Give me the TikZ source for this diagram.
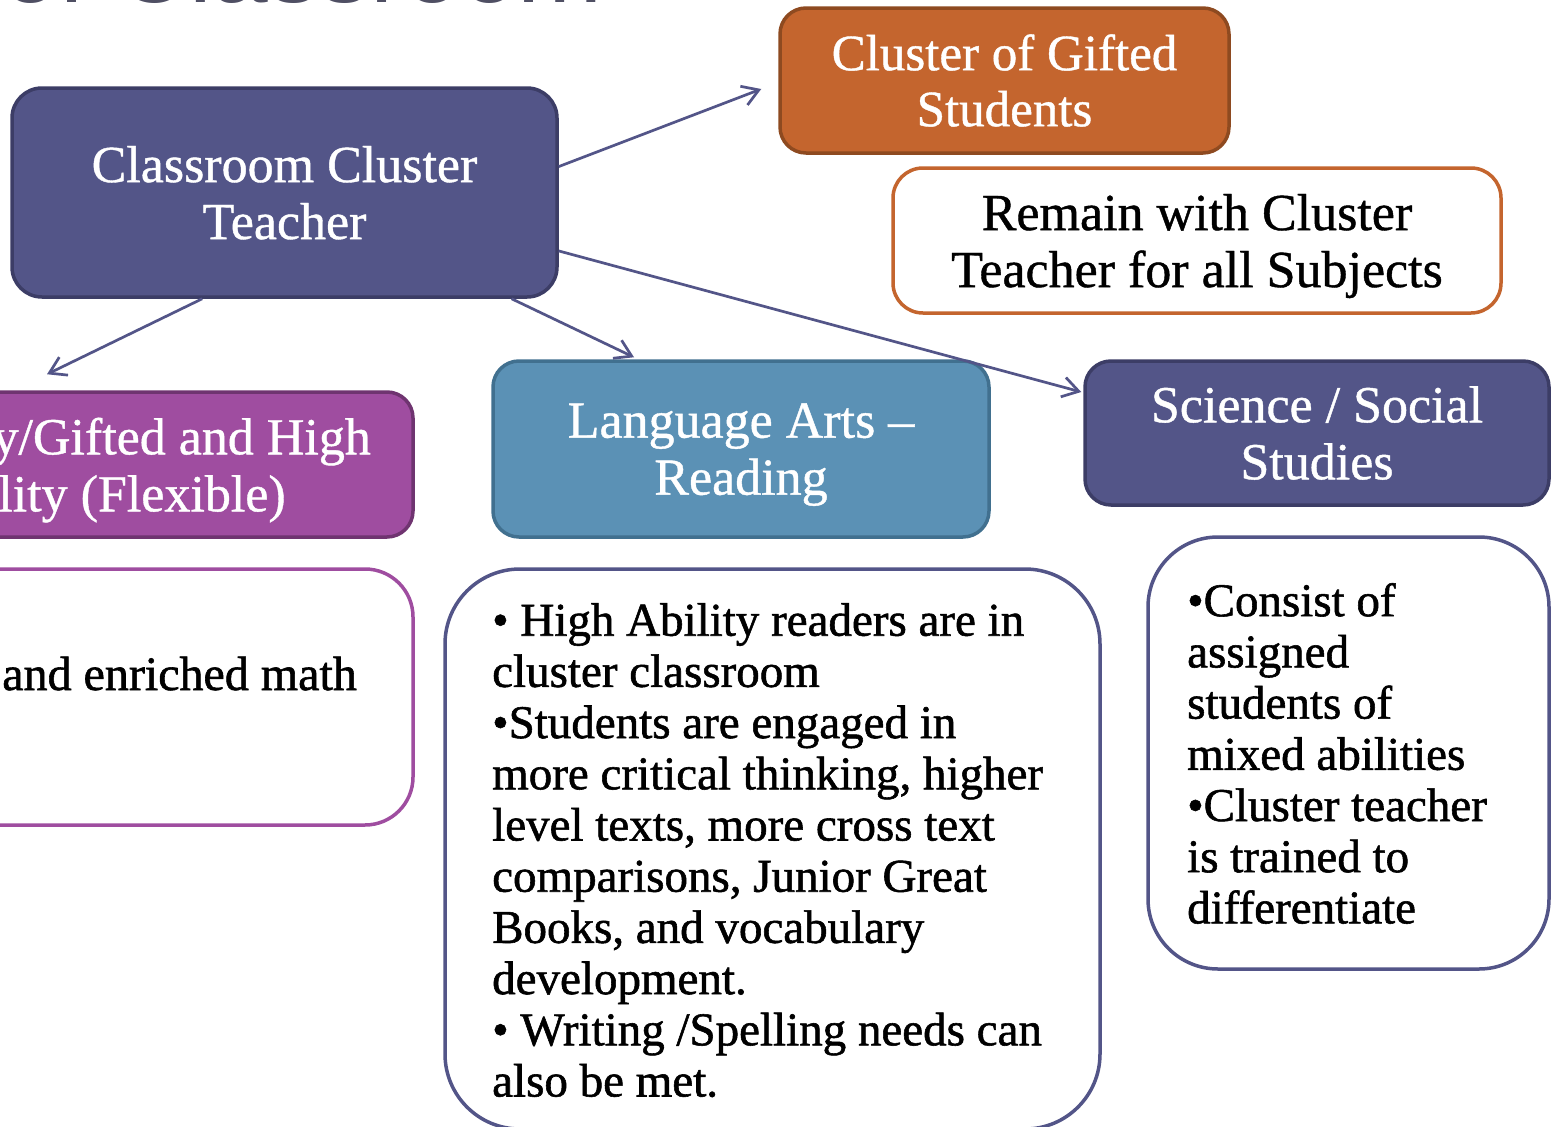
\documentclass[tikz,border=0pt]{standalone}
\usepackage{fontspec}
\setmainfont[FakeBold=0.8]{Liberation Serif}
\newfontfamily\bodyserif[WordSpace=0.84,FakeBold=1.2]{Liberation Serif}
\newfontfamily\mathserif[FakeBold=1.2]{Liberation Serif}
\newfontfamily\titlesans{Liberation Sans}
\usetikzlibrary{arrows.meta,calc}
\definecolor{indigo}{HTML}{535588}
\definecolor{indigoD}{HTML}{3C3D66}
\definecolor{orangeF}{HTML}{C4652E}
\definecolor{orangeD}{HTML}{8E4A20}
\definecolor{purpleF}{HTML}{9F4DA0}
\definecolor{purpleD}{HTML}{6F3470}
\definecolor{blueF}{HTML}{5B91B5}
\definecolor{blueD}{HTML}{41708F}
\definecolor{titlegray}{HTML}{4F4F63}
\begin{document}
\begin{tikzpicture}[x=1pt,y=-1pt,
  colbox/.style={rounded corners=26pt, line width=3.5pt, text=white, align=center,
    inner sep=0pt, font=\fontsize{52}{57}\selectfont},
  whitebox/.style={rounded corners=30pt, line width=3.5pt, fill=white, text=black, inner sep=0pt},
  bodytext/.style={anchor=north west, inner sep=0pt, align=left,
    font=\bodyserif\fontsize{47}{51.2}\selectfont},
  conn/.style={draw=indigo, line width=2.7pt, -{Straight Barb[length=16pt,width=20pt]}},
]
\useasboundingbox (0,0) rectangle (1556,1127);
\clip (0,0) rectangle (1556,1127);
\fill[white] (0,0) rectangle (1556,1127);

% cut-off title at the top
\node[anchor=base west, inner sep=0pt, font=\titlesans\fontsize{102}{102}\selectfont,
  text=titlegray] (title) at (2,2.5) {of Classroom};

% coloured boxes
\node[colbox, fill=indigo, draw=indigoD, minimum width=545pt, minimum height=209pt,
  rounded corners=30pt, text depth=0pt] (teacher) at (284.5,192.5) {Classroom Cluster\\Teacher};
\node[colbox, fill=orangeF, draw=orangeD, minimum width=449pt, minimum height=145pt,
  font=\fontsize{51}{56}\selectfont] (gifted) at (1004.5,80.5) {Cluster of Gifted\\Students};
\node[colbox, fill=purpleF, draw=purpleD, minimum width=602pt, minimum height=145pt,
  text depth=0pt] (flex) at (112,464.5)
  {\hspace*{18pt}Ability/Gifted and High\\Ability (Flexible)\hspace*{18pt}};
\node[colbox, fill=blueF, draw=blueD, minimum width=496pt, minimum height=176pt,
  text depth=0pt] (la) at (741,449) {Language Arts –\\Reading};
\node[colbox, fill=indigo, draw=indigoD, minimum width=464pt, minimum height=144pt]
  (sci) at (1317,433) {Science / Social\\Studies};

% white boxes
\node[whitebox, draw=orangeF, minimum width=608pt, minimum height=145pt, align=center,
  font=\fontsize{52}{57}\selectfont, text depth=0pt] (remain) at (1197,240.5)
  {Remain with Cluster\\Teacher for all Subjects};
\node[whitebox, draw=purpleF, rounded corners=48pt, minimum width=602pt,
  minimum height=256pt] (mathbox) at (112,697) {};
\node[anchor=base east, inner sep=0pt, font=\mathserif\fontsize{48}{51.2}\selectfont]
  (mathtext) at (357,690) {and enriched math};
\node[whitebox, draw=indigo, rounded corners=75pt, minimum width=655pt,
  minimum height=560pt] (labody) at (772.5,849) {};
\node[bodytext] (labodytext) at (492,602.9)
  {• High Ability readers are in\\
   cluster classroom\\
   •Students are engaged in\\
   more critical thinking, higher\\
   level texts, more cross text\\
   comparisons, Junior Great\\
   Books, and vocabulary\\
   development.\\
   • Writing /Spelling needs can\\
   also be met.};
\node[whitebox, draw=indigo, rounded corners=70pt, minimum width=401pt,
  minimum height=432pt] (scibody) at (1348.5,753) {};
\node[bodytext] (scibodytext) at (1187,582.9)
  {•Consist of\\
   assigned\\
   students of\\
   mixed abilities\\
   •Cluster teacher\\
   is trained to\\
   differentiate};

% connectors
\draw[conn] ($(teacher.north east)!0.378!(teacher.south east)$) -- ($(gifted.west)+(-17,8.5)$);
\draw[conn] ($(teacher.north east)!0.775!(teacher.south east)$) -- ($(sci.west)+(-2,-41)$);
\draw[conn] ($(teacher.south west)!0.35!(teacher.south east)$) -- ($(flex.north)+(-65,-16)$);
\draw[conn] ($(teacher.south west)!0.914!(teacher.south east)$) -- ($(la.north)+(-107,-2)$);
\end{tikzpicture}
\end{document}
